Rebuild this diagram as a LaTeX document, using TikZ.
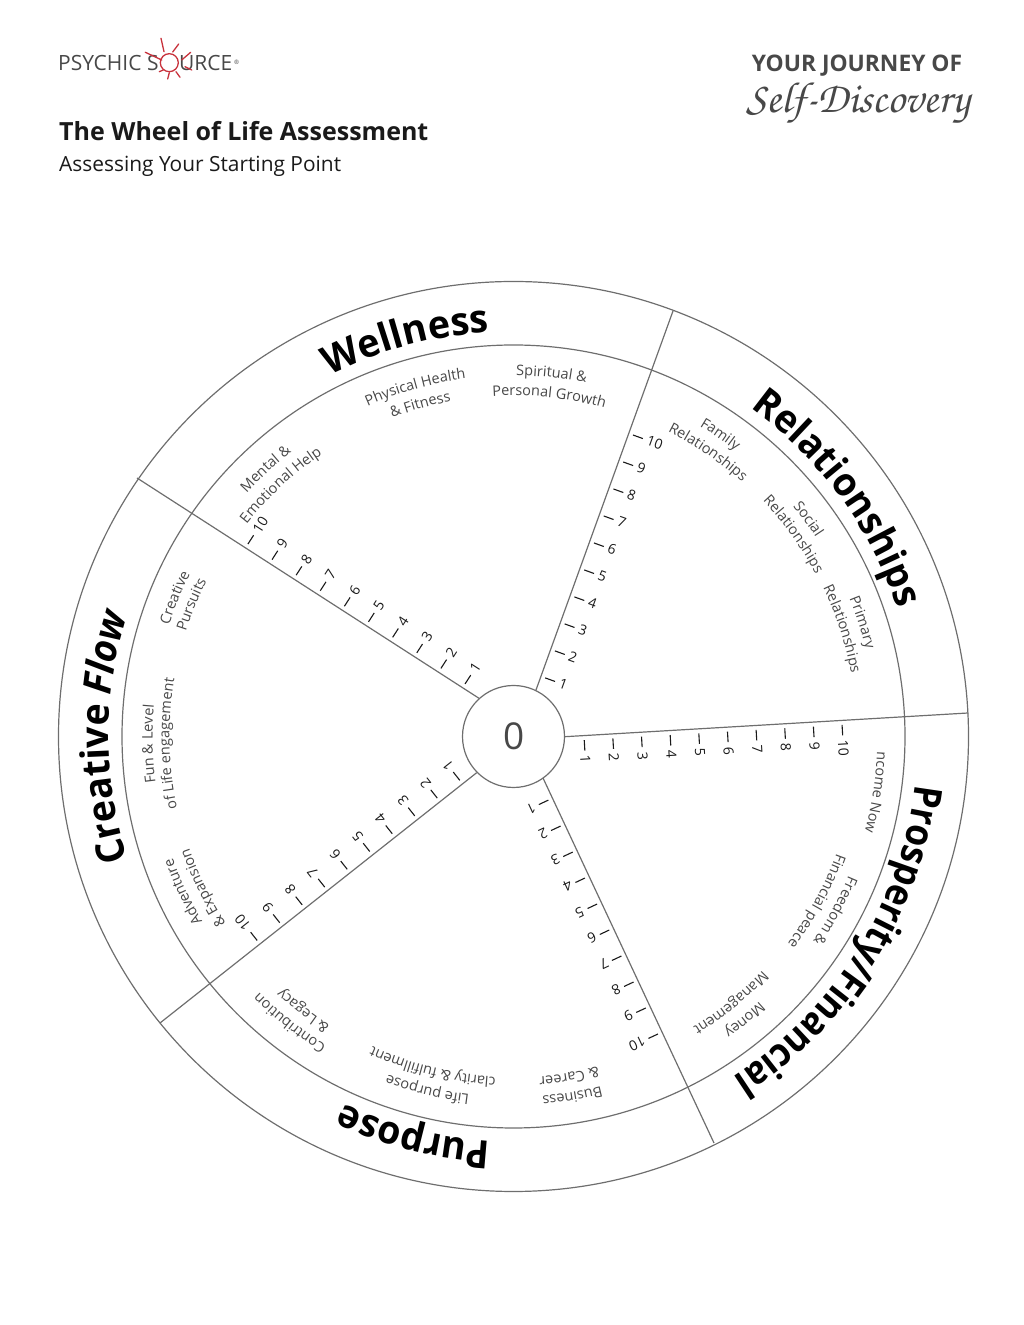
\documentclass[tikz,border=0pt]{standalone}
\usepackage{fontspec}
\usetikzlibrary{decorations.text,calc}
\setmainfont{Open Sans}
\newfontfamily\scriptface{TeX Gyre Chorus}
\definecolor{rim}{HTML}{6E6E6E}
\definecolor{ink}{HTML}{1A1A1A}
\definecolor{soft}{HTML}{484848}
\definecolor{sunred}{HTML}{C8323C}
% Band titles, with a horizontal squeeze per title
\newcommand{\bigf}[1]{\fontsize{39}{39}\selectfont\bfseries\addfontfeature{FakeStretch=#1}}
\newcommand{\smallf}{\fontsize{14.5}{14.5}\selectfont\color{soft}}
% Text set clockwise on an arc round the wheel's centre: mid angle, radius, span, text
\newcommand{\ringtext}[4]{%
  \path[decorate,decoration={text along path,text align=center,text={#4}}]
    ($(c)+(#1+#3/2:#2)$) arc[start angle=#1+#3/2,end angle=#1-#3/2,radius=#2];}
\tikzset{
  x=1pt,y=1pt,
  wheelline/.style={draw=rim,line width=1.2pt},
  tickmark/.style={draw=ink,line width=1.1pt},
  ticknum/.style={anchor=west,inner sep=0pt,text=ink,font=\fontsize{14}{14}\selectfont},
  sunray/.style={draw=sunred,line width=1.3pt,line cap=round},
}
\begin{document}
\begin{tikzpicture}
\useasboundingbox (0,0) rectangle (1024,1325);
\coordinate (c) at (513.5,588.5);

% Rim circles and hub
\node[circle,wheelline,minimum size=910pt,inner sep=0pt] (outerrim) at (c) {};
\node[circle,wheelline,minimum size=783pt,inner sep=0pt] (innerrim) at (c) {};

% Spokes with their score ticks, hub end / rim end / distance of tick 1
\foreach \n/\ax/\ay/\bx/\by/\first in {
  1/565/588.3/968/612/19,
  2/536/635/673/1014/14.5,
  3/479/626.7/137/847/19.5,
  4/476.7/552.3/160/302/18,
  5/543/547/714/182/22.3}{
  \coordinate (a\n) at (\ax,\ay);
  \coordinate (b\n) at (\bx,\by);
  \draw[wheelline] (a\n) -- (b\n);
  \pgfmathsetmacro{\ang}{atan2(\by-\ay,\bx-\ax)}
  \pgfmathsetmacro{\numrot}{\ang-90}
  \begin{scope}[shift={(a\n)},rotate=\ang]
    \foreach \k in {1,...,10}{
      \pgfmathsetmacro{\s}{\first+(\k-1)*28.7}
      \coordinate (t\n-\k-in) at (\s,-4.5);
      \coordinate (t\n-\k-out) at (\s,-15);
      \draw[tickmark] (t\n-\k-in) -- (t\n-\k-out);
      \node[ticknum,rotate=\numrot] (n\n-\k) at (\s,-19.5) {\k};
    }
  \end{scope}
}
\node[circle,wheelline,fill=white,minimum size=102pt,inner sep=0pt,text=soft,
  font=\fontsize{37}{37}\selectfont] (hub) at (c) {\kern2pt 0};

% Section titles in the outer band
\ringtext{105.2}{405}{30}{|\bigf{0.97}|Wellness}
\ringtext{36.3}{405}{60}{|\bigf{0.96}|Relationships}
\ringtext{-32}{405}{70}{|\bigf{0.905}|Prosperity/Financial}
\ringtext{256}{405}{40}{|\bigf{0.96}|Purpose}
\ringtext{180.1}{405}{50}{|\bigf{0.96}|Creative |\bigf{0.96}\itshape|Flow}

% Spoke-side labels in two arcs
\ringtext{84}{361}{30}{|\smallf|Spiritual {\&}}
\ringtext{84}{341}{30}{|\smallf|Personal Growth}
\ringtext{105.7}{361}{30}{|\smallf|Physical Health}
\ringtext{105.7}{341}{30}{|\smallf|{\&} Fitness}
\ringtext{132.8}{361}{30}{|\smallf|Mental {\&}}
\ringtext{132.8}{341}{30}{|\smallf|Emotional Help}
\ringtext{55.6}{362}{30}{|\smallf|Family}
\ringtext{55.6}{342}{30}{|\smallf|Relationships}
\ringtext{36.4}{362}{30}{|\smallf|Social}
\ringtext{35.8}{343}{30}{|\smallf|Relationships}
\ringtext{18.1}{363}{30}{|\smallf|Primary}
\ringtext{18.1}{343.5}{30}{|\smallf|Relationships}
\ringtext{-8.8}{364}{30}{|\smallf|ncome Now}
\ringtext{-28.5}{363}{30}{|\smallf|Freedom {\&}}
\ringtext{-28.5}{343.5}{30}{|\smallf|Financial peace}
\ringtext{-50.8}{362}{30}{|\smallf|Money}
\ringtext{-50.8}{342}{30}{|\smallf|Management}
\ringtext{-80.7}{361}{30}{|\smallf|Business}
\ringtext{-80.7}{341}{30}{|\smallf|{\&} Career}
\ringtext{256.3}{361}{30}{|\smallf|Life purpose}
\ringtext{256.3}{341}{30}{|\smallf|clarity {\&} fulfillment}
\ringtext{232}{361}{30}{|\smallf|Contribution}
\ringtext{232.5}{342}{30}{|\smallf|{\&} Legacy}
\ringtext{205.2}{362}{30}{|\smallf|Adventure}
\ringtext{206}{343}{30}{|\smallf|{\&} Expansion}
\ringtext{181.2}{361}{30}{|\smallf|Fun {\&} Level}
\ringtext{181.2}{344}{30}{|\smallf|of Life engagement}
\ringtext{157.7}{362}{30}{|\smallf|Creative}
\ringtext{157.7}{344}{30}{|\smallf|Pursuits}

% Page heading
\node[anchor=base west,inner sep=0pt,text=ink,font=\fontsize{25}{25}\selectfont\bfseries] (title) at (59,1184) {The Wheel of Life Assessment};
\node[anchor=base west,inner sep=0pt,text=ink,font=\fontsize{20.9}{20.9}\selectfont] (subtitle) at (59,1153) {Assessing Your Starting Point};
\node[anchor=base,inner sep=0pt,text=soft,font=\fontsize{22.8}{22.8}\selectfont\bfseries] (journey) at (857,1253) {YOUR JOURNEY OF};
\node[anchor=base,inner sep=0pt,text=soft,font=\fontsize{43.5}{43.5}\scriptface] (selfdisc) at (858,1212) {Self-Discovery};

% Brand mark
\node[anchor=base west,inner sep=0pt,text=soft,font=\fontsize{21}{21}\selectfont] (brandL) at (58,1254.5) {PSYCHIC S};
\node[anchor=base west,inner sep=0pt,text=soft,font=\fontsize{21}{21}\selectfont] (brandR) at (179,1254.5) {URCE};
\node[anchor=center,inner sep=0pt,text=soft,font=\fontsize{6}{6}\selectfont] (brandreg) at (236.5,1263) {®};
\coordinate (sun) at (169.3,1262.3);
\draw[draw=sunred,line width=1.3pt] (sun) circle[radius=9];
\draw[sunray] (161,1286.7) -- (164,1273.3);
\draw[sunray] (178.7,1281) -- (172.7,1273);
\draw[sunray] (190.7,1272.7) -- (181.7,1265);
\draw[sunray] (191.7,1255) -- (185,1258.3);
\draw[sunray] (180,1247.7) -- (176,1253.3);
\draw[sunray] (167.7,1246) -- (169.3,1252.3);
\draw[sunray] (159.3,1253.3) -- (163.3,1255);
\draw[sunray] (145.3,1272.7) -- (161.7,1265);
\end{tikzpicture}
\end{document}
